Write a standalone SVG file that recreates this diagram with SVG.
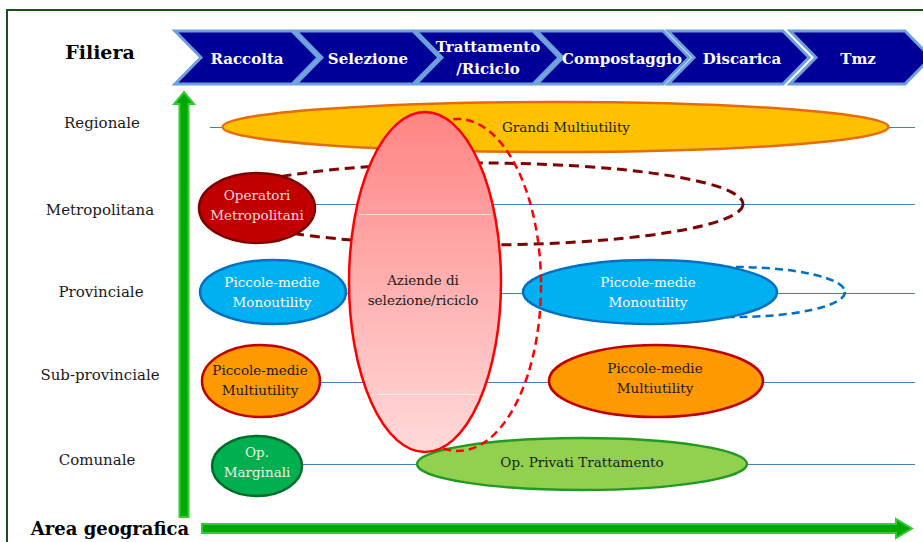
<svg xmlns="http://www.w3.org/2000/svg" width="923" height="542" viewBox="0 0 923 542">
<defs>
<linearGradient id="pink" x1="0" y1="0" x2="0" y2="1">
<stop offset="0" stop-color="#ff8484"/>
<stop offset="1" stop-color="#ffdada"/>
</linearGradient>
</defs>
<style>
.chev{fill:#000099;stroke:#6c9fdc;stroke-width:3;stroke-linejoin:miter}
.ct{font-family:"DejaVu Serif","Liberation Serif",serif;font-weight:bold;font-size:15px;fill:#ffffff;text-anchor:middle}
.rl{font-family:"DejaVu Serif","Liberation Serif",serif;font-size:15px;fill:#1a1a1a;text-anchor:middle}
.nt{font-family:"DejaVu Serif","Liberation Serif",serif;font-size:13.5px;text-anchor:middle}
.dk{fill:#1a1a1a}
.wh{fill:#ffffff}
.ttl{font-family:"DejaVu Serif","Liberation Serif",serif;font-weight:bold;font-size:19px;fill:#000000;text-anchor:middle}
.bl{stroke:#4a7ebb;stroke-width:1;fill:none}
.garrow{fill:#00a800;stroke:#33cc33;stroke-width:2}
</style>
<rect x="7" y="10" width="930" height="545" fill="#ffffff" stroke="#1e4f1e" stroke-width="2"/>

<text class="ttl" x="100" y="59">Filiera</text>
<text class="ttl" x="110" y="535" style="font-size:18px">Area geografica</text>

<g id="chevrons">
<g id="ch-raccolta"><polygon class="chev" points="175,31 292,31 318,57.5 292,84 175,84 201,57.5"/><text class="ct" x="247" y="64">Raccolta</text></g>
<g id="ch-selezione"><polygon class="chev" points="296,31 413,31 439,57.5 413,84 296,84 322,57.5"/><text class="ct" x="368" y="64">Selezione</text></g>
<g id="ch-trattamento"><polygon class="chev" points="416,31 533,31 559,57.5 533,84 416,84 442,57.5"/><text class="ct" x="488" y="52">Trattamento</text><text class="ct" x="488" y="74">/Riciclo</text></g>
<g id="ch-compostaggio"><polygon class="chev" points="537,31 663,31 689,57.5 663,84 537,84 563,57.5"/><text class="ct" x="622" y="64">Compostaggio</text></g>
<g id="ch-discarica"><polygon class="chev" points="668,31 783,31 809,57.5 783,84 668,84 694,57.5"/><text class="ct" x="742" y="64">Discarica</text></g>
<g id="ch-tmz"><polygon class="chev" points="790,31 905,31 931,57.5 905,84 790,84 816,57.5"/><text class="ct" x="858" y="64">Tmz</text></g>
</g>

<g id="axes">
<polygon class="garrow" points="179.5,517 179.5,104 174,104 184,92 194,104 188.5,104 188.5,517"/>
<polygon class="garrow" points="202,524 896,524 896,519 912,528.5 896,538 896,533 202,533"/>
</g>

<g id="row-labels">
<text class="rl" x="102" y="128">Regionale</text>
<text class="rl" x="100" y="215">Metropolitana</text>
<text class="rl" x="101" y="297">Provinciale</text>
<text class="rl" x="100" y="380">Sub-provinciale</text>
<text class="rl" x="97" y="465">Comunale</text>
</g>

<g id="connectors">
<line class="bl" x1="210" y1="127.5" x2="915" y2="127.5"/>
<line class="bl" x1="316" y1="204.5" x2="915" y2="204.5"/>
<line class="bl" x1="347" y1="293.5" x2="915" y2="293.5"/>
<line class="bl" x1="320" y1="382.5" x2="915" y2="382.5"/>
<line class="bl" x1="302" y1="464.5" x2="915" y2="464.5"/>
</g>

<g id="grandi-multiutility">
<ellipse cx="555.5" cy="127" rx="333" ry="25" fill="#ffc000" stroke="#e46c0a" stroke-width="2.5"/>
<text class="nt dk" x="566" y="132">Grandi Multiutility</text>
</g>

<g id="metro-dashed">
<ellipse cx="478" cy="204" rx="265" ry="41" fill="none" stroke="#7f0000" stroke-width="3" stroke-dasharray="10,6"/>
</g>

<g id="operatori-metropolitani">
<ellipse cx="257" cy="208" rx="58" ry="35" fill="#c00000" stroke="#7f0000" stroke-width="2.5"/>
<text class="nt" x="257" y="200" fill="#f2dcdb">Operatori</text>
<text class="nt" x="257" y="220" fill="#f2dcdb">Metropolitani</text>
</g>

<g id="monoutility-dashed">
<ellipse cx="735" cy="292" rx="110" ry="25" fill="none" stroke="#0070c0" stroke-width="2.5" stroke-dasharray="8,5"/>
</g>

<g id="monoutility-left">
<ellipse cx="273" cy="292" rx="73" ry="32" fill="#00b0f0" stroke="#0070c0" stroke-width="2.5"/>
<text class="nt wh" x="272" y="287">Piccole-medie</text>
<text class="nt wh" x="272" y="307">Monoutility</text>
</g>

<g id="monoutility-right">
<ellipse cx="650" cy="292" rx="127" ry="32" fill="#00b0f0" stroke="#0070c0" stroke-width="2.5"/>
<text class="nt wh" x="648" y="287">Piccole-medie</text>
<text class="nt wh" x="648" y="307">Monoutility</text>
</g>

<g id="multiutility-left">
<ellipse cx="261" cy="381" rx="59" ry="36" fill="#ff9900" stroke="#c00000" stroke-width="2.5"/>
<text class="nt dk" x="260" y="375">Piccole-medie</text>
<text class="nt dk" x="260" y="395">Multiutility</text>
</g>

<g id="multiutility-right">
<ellipse cx="656" cy="381" rx="107" ry="36" fill="#ff9900" stroke="#c00000" stroke-width="2.5"/>
<text class="nt dk" x="655" y="373">Piccole-medie</text>
<text class="nt dk" x="655" y="393">Multiutility</text>
</g>

<g id="op-marginali">
<ellipse cx="257" cy="466" rx="45" ry="30" fill="#00b050" stroke="#006b2a" stroke-width="2.5"/>
<text class="nt" x="257" y="457" fill="#eaf6ea">Op.</text>
<text class="nt" x="257" y="477" fill="#eaf6ea">Marginali</text>
</g>

<g id="op-privati">
<ellipse cx="582" cy="464" rx="165" ry="26" fill="#92d050" stroke="#229922" stroke-width="2.5"/>
<text class="nt dk" x="582" y="467">Op. Privati Trattamento</text>
</g>

<g id="aziende-dashed">
<ellipse cx="458" cy="285" rx="83" ry="166" fill="none" stroke="#ff0000" stroke-width="2.5" stroke-dasharray="8,5"/>
</g>

<g id="aziende">
<ellipse cx="425" cy="282" rx="76" ry="170" fill="url(#pink)" stroke="#ff0000" stroke-width="2.5"/>
<line x1="359" y1="214.5" x2="491" y2="214.5" stroke="#ffffff" stroke-opacity="0.6" stroke-width="1"/>
<line x1="376" y1="394.5" x2="479" y2="394.5" stroke="#ffffff" stroke-opacity="0.6" stroke-width="1"/>
<text class="nt dk" x="423" y="285">Aziende di</text>
<text class="nt dk" x="423" y="305">selezione/riciclo</text>
</g>
</svg>
